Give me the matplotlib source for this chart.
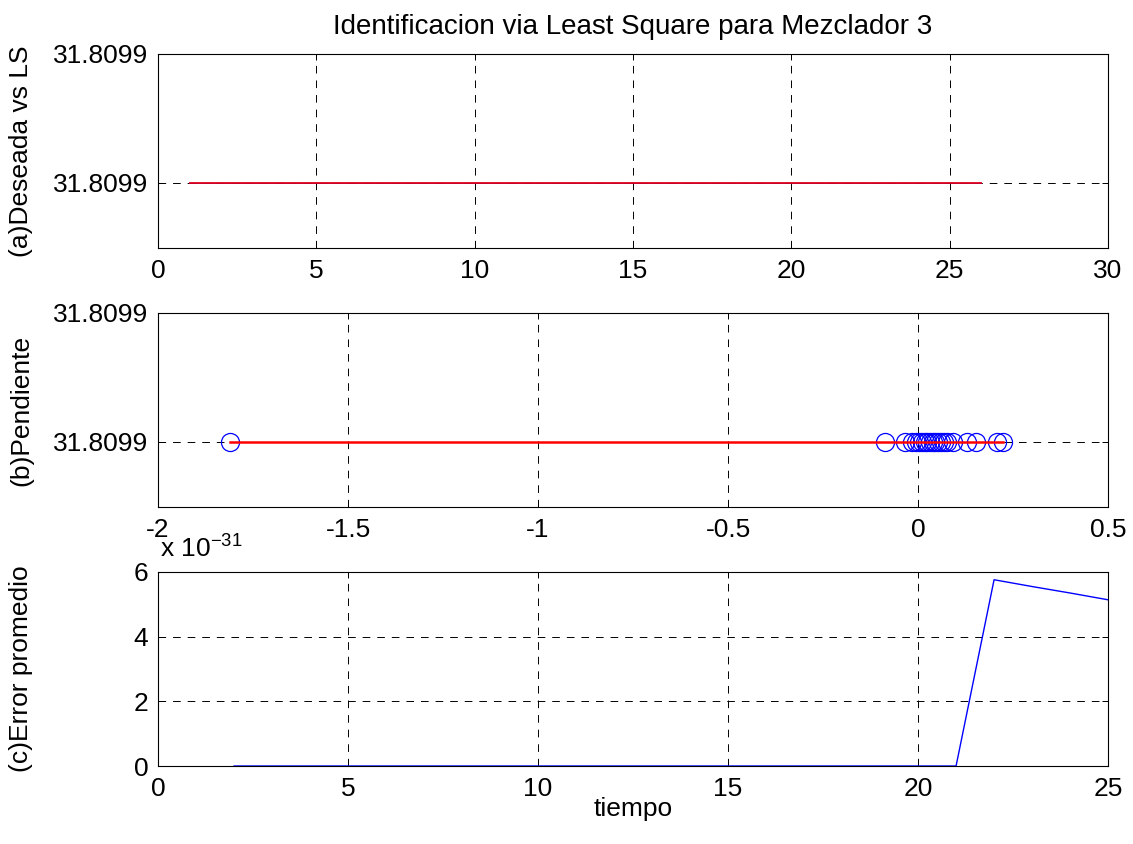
import numpy as np
import matplotlib
matplotlib.use('Agg')
import matplotlib.pyplot as plt
from matplotlib.ticker import FuncFormatter

plt.rcParams['font.family'] = ['Liberation Sans', 'DejaVu Sans']
plt.rcParams['font.size'] = 19
plt.rcParams['lines.scale_dashes'] = False
plt.rcParams['mathtext.fontset'] = 'custom'
plt.rcParams['mathtext.rm'] = 'Liberation Sans'

# valor constante de la salida (deseada y LS coinciden)
y_const = 31.8099
d = 1e-5  # separacion de ticks en el eje y

# (a) deseada vs LS
t_a = list(range(1, 27))
deseada = [y_const] * len(t_a)
ls_est = [y_const] * len(t_a)

# (b) pendiente: valores de x de los circulos
pend_x = [-1.81, -0.087, -0.034, -0.015, -0.005, 0.003, 0.010, 0.017, 0.024,
          0.031, 0.038, 0.045, 0.052, 0.060, 0.068, 0.077, 0.092, 0.129, 0.152,
          0.208, 0.224]
pend_y = [y_const] * len(pend_x)

# (c) error promedio
t_c = list(range(2, 26))
err = [0.0] * 20 + [5.76e-31, 5.55e-31, 5.35e-31, 5.14e-31]

fig = plt.figure(figsize=(11.33, 8.44), dpi=100)
L, Wd, H = 0.1395, 0.8385, 0.2299
ax1 = fig.add_axes([L, 0.7062, Wd, H])
ax2 = fig.add_axes([L, 0.3993, Wd, H])
ax3 = fig.add_axes([L, 0.0924, Wd, H])

for ax in (ax1, ax2, ax3):
    ax.grid(True, color='black', linestyle=(0, (5.5, 5)), linewidth=0.7)
    ax.tick_params(direction='in', top=True, right=True, length=4, width=0.7)
    ax.tick_params(axis='x', pad=8)
    ax.tick_params(axis='y', pad=7)
    for s in ax.spines.values():
        s.set_linewidth(0.8)

# panel a
ax1.plot(t_a, ls_est, color='blue', linewidth=0.6)
ax1.plot(t_a, deseada, color='#e0001a', linewidth=1.3)
ax1.set_xlim(0, 30)
ax1.set_xticks([0, 5, 10, 15, 20, 25, 30])
ax1.set_ylim(y_const - 0.504 * d, y_const + d)
ax1.set_yticks([y_const, y_const + d])
ax1.set_yticklabels(['31.8099', '31.8099'])
ax1.set_ylabel('(a)Deseada vs LS')
ax1.set_title('Identificacion via Least Square para Mezclador 3', fontsize=20, pad=14)

# panel b
ax2.plot(pend_x, pend_y, 'o', markerfacecolor='none', markeredgecolor='blue',
         markersize=13, markeredgewidth=0.9)
ax2.plot([min(pend_x), max(pend_x)], [y_const, y_const], color='red', linewidth=1.8)
ax2.set_xlim(-2, 0.5)
ax2.set_xticks([-2, -1.5, -1, -0.5, 0, 0.5])
ax2.set_xticklabels(['-2', '-1.5', '-1', '-0.5', '0', '0.5'])
ax2.set_ylim(y_const - 0.504 * d, y_const + d)
ax2.set_yticks([y_const, y_const + d])
ax2.set_yticklabels(['31.8099', '31.8099'])
ax2.set_ylabel('(b)Pendiente')

# panel c
ax3.plot(t_c, err, color='blue', linewidth=1)
ax3.set_xlim(0, 25)
ax3.set_xticks([0, 5, 10, 15, 20, 25])
ax3.set_ylim(0, 6e-31)
ax3.set_yticks([0, 2e-31, 4e-31, 6e-31])
ax3.yaxis.set_major_formatter(FuncFormatter(lambda v, p: '%g' % round(v / 1e-31, 6)))
ax3.set_ylabel('(c)Error promedio')
ax3.set_xlabel('tiempo', labelpad=-3)
fig.text(0.141, 0.340, r'x 10$^{\mathregular{-31}}$', fontsize=19, va='baseline')

for ax in (ax1, ax2, ax3):
    ax.yaxis.set_label_coords(-0.1316, 0.5)

fig.savefig('out.png', dpi=100)
